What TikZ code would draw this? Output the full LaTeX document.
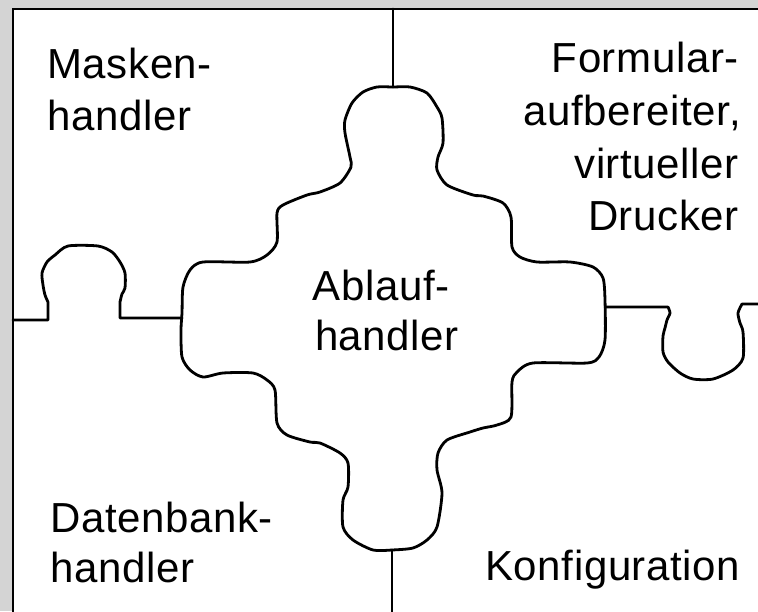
\documentclass[tikz,border=0pt]{standalone}
\usepackage{fontspec}
\setmainfont{Liberation Sans}[LetterSpace=1.5]
\definecolor{framegray}{RGB}{212,212,212}
\begin{document}
\begin{tikzpicture}[x=1pt,y=-1pt,
  lbl/.style={font=\fontsize{42}{50}\selectfont, inner sep=0pt},
  piece/.style={line width=2.8pt, line join=round, line cap=round},
  frame/.style={line width=2.4pt}]
\useasboundingbox (0,0) rectangle (758,611);
\fill[framegray] (0,0) rectangle (758,611);
\fill[white] (13,9) rectangle (760,613);
\draw[frame] (13,613) -- (13,9) -- (760,9);

% central piece (Ablaufhandler)
\draw[piece] plot[smooth cycle, tension=0.45] coordinates {
 (410,87) (427,93) (437,107) (442,118) (443,143) (438,157) (437,170)
 (447,185) (473,195) (483,196) (503,203) (511,217) (512,247) (520,257)
 (537,262) (570,262) (593,267) (603,278) (605,300) (605,340)
 (599,357) (587,363) (533,363) (517,372) (512,382) (511,417) (497,425)
 (483,428) (470,432) (447,440) (438,453) (437,470) (442,493) (437,527)
 (427,540) (413,548) (392,550) (373,550) (353,540) (343,527) (343,500)
 (348,487) (348,463) (340,453) (320,443) (310,442) (287,435) (277,423)
 (275,390) (267,380) (253,373) (223,373) (203,377) (190,370) (182,357)
 (181,330) (182,313) (183,287) (190,270) (203,262) (250,262) (267,255)
 (277,242) (277,213) (283,205) (307,195) (320,192) (340,183) (351,167)
 (350,157) (345,133) (345,120) (352,103) (363,92) (377,87) (393,87)};

% named ends of the seams
\coordinate (topT) at (393,9);
\coordinate (topB) at (393,87);
\coordinate (botT) at (392,550);
\coordinate (botB) at (392,613);
\coordinate (leftE) at (13,320);
\coordinate (leftC) at (182,318);
\coordinate (rightC) at (605,307);
\coordinate (rightE) at (760,304);

\draw[piece] (topT) -- (topB);
\draw[piece] (botT) -- (botB);

% left seam with knob
\draw[piece] (leftE) -- (48,320) -- (48,302)
  plot[smooth, tension=0.45] coordinates {(48,302) (45,295) (43,285) (42,273)
  (47,262) (55,255) (68,246) (98,246) (112,252) (120,262) (125,273) (125,288)
  (122,294) (120,302)} -- (120,318) -- (leftC);

% right seam with knob
\draw[piece] (rightC) -- (668,307)
  plot[smooth, tension=0.45] coordinates {(668,307) (670,313) (667,320) (665,328)
  (663,336) (663,352) (668,362) (680,373) (693,379) (713,379) (733,370)
  (743,358) (743,332) (740,323) (738,313) (742,304)} -- (rightE);

% labels
\node[lbl, anchor=base west] (mask1) at (47,78) {Masken-};
\node[lbl, anchor=base west] (mask2) at (47,130) {handler};
\node[lbl, anchor=base east] (form1) at (739,72) {Formular-};
\node[lbl, anchor=base east] (form2) at (741,125) {aufbereiter,};
\node[lbl, anchor=base east] (form3) at (739,178) {virtueller};
\node[lbl, anchor=base east] (form4) at (739,230) {Drucker};
\node[lbl, anchor=base] (abl1) at (381,300) {Ablauf-};
\node[lbl, anchor=base] (abl2) at (387,350) {handler};
\node[lbl, anchor=base west] (dat1) at (50,532) {Datenbank-};
\node[lbl, anchor=base west] (dat2) at (50,582) {handler};
\node[lbl, anchor=base west] (konf) at (485,580) {Konfiguration};
\end{tikzpicture}
\end{document}
